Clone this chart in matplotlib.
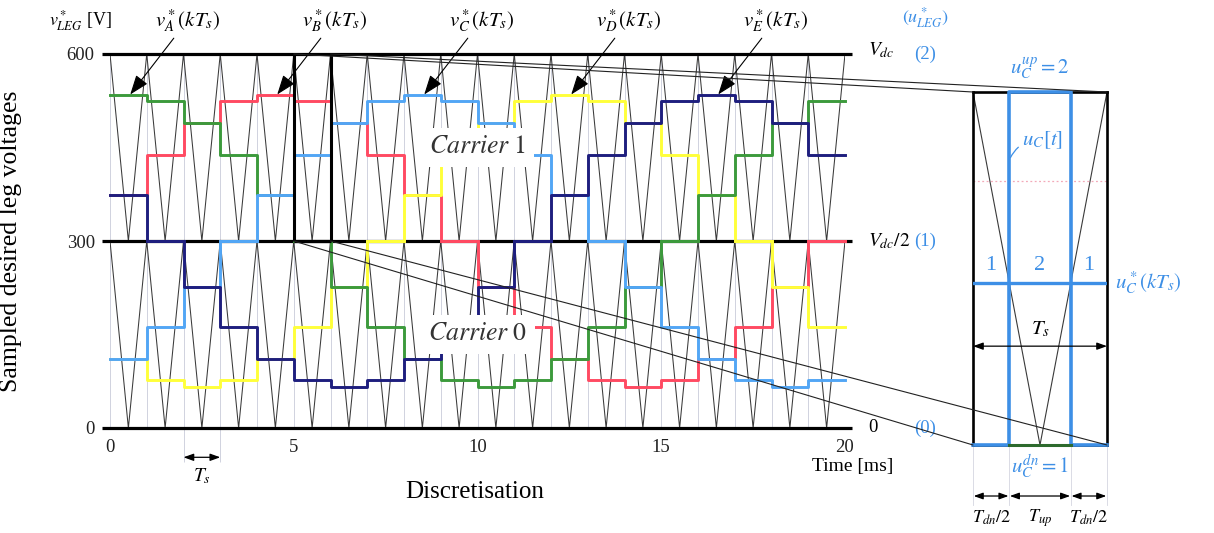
import numpy as np
import matplotlib
matplotlib.use("Agg")
import matplotlib.pyplot as plt
from matplotlib.patches import ConnectionPatch
from matplotlib.lines import Line2D
from matplotlib.transforms import blended_transform_factory

plt.rcParams['font.family'] = ['Liberation Serif', 'DejaVu Serif']
plt.rcParams['mathtext.fontset'] = 'stix'

# ---------------------------------------------------------------- data
Vdc = 600.0          # DC bus voltage [V]
Ts = 1.0             # sampling / carrier period [ms]
n_samples = 20       # samples over one 20 ms fundamental period

# sampled desired leg voltages v*_x(kTs) [V], k = 0 .. 19
v_A = [535, 524, 490, 438, 373, 300, 227, 162, 110, 77,
       65, 77, 110, 162, 227, 300, 373, 438, 490, 524]
v_B = [373, 438, 490, 524, 535, 524, 490, 438, 373, 300,
       227, 162, 110, 77, 65, 77, 110, 162, 227, 300]
v_C = [110, 162, 227, 300, 373, 438, 490, 524, 535, 524,
       490, 438, 373, 300, 227, 162, 110, 77, 65, 77]
v_D = [110, 77, 65, 77, 110, 162, 227, 300, 373, 438,
       490, 524, 535, 524, 490, 438, 373, 300, 227, 162]
v_E = [373, 300, 227, 162, 110, 77, 65, 77, 110, 162,
       227, 300, 373, 438, 490, 524, 535, 524, 490, 438]

leg_names = ["A", "B", "C", "D", "E"]
leg_values = {"A": v_A, "B": v_B, "C": v_C, "D": v_D, "E": v_E}
leg_colors = {"A": "#3c9a3c", "B": "#ff4a62", "C": "#52a6f5",
              "D": "#ffff3a", "E": "#1e1e7e"}
leg_order = ["B", "D", "A", "C", "E"]          # drawing order, bottom to top

x_ticks = [0, 5, 10, 15, 20]
y_ticks = [0, 300, 600]
y_tick_labels = ["0", "300", "600"]
k_zoom = 5                                      # sampling period shown enlarged

BLUE = "#3d8fe6"
W, H = 1214, 533

# ---------------------------------------------------------------- figure
fig = plt.figure(figsize=(W / 100, H / 100), dpi=100)
ax = fig.add_axes([110 / W, 1 - 428 / H, 735 / W, 374 / H])
ax.set_xlim(0, n_samples * Ts)
ax.set_ylim(0, Vdc)
for s in ax.spines.values():
    s.set_visible(False)
ax.set_xticks(x_ticks)
ax.set_xticklabels([str(v) for v in x_ticks])
ax.set_yticks(y_ticks)
ax.set_yticklabels(y_tick_labels)
ax.tick_params(length=0, labelsize=13.5, colors="#222222")
ax.tick_params(axis="x", pad=8)
ax.tick_params(axis="y", pad=11)

t_edges = np.arange(n_samples + 1) * Ts

# sampling instants
ax.vlines(t_edges, 0, Vdc, color="#c9cbd9", lw=0.6, zorder=1)

# phase-disposed triangular carriers (peaks at the sampling instants)
tc = np.arange(0, n_samples * Ts + Ts / 4, Ts / 2)
shape = np.where(np.arange(len(tc)) % 2 == 0, 1.0, 0.0)
carrier1 = Vdc / 2 + Vdc / 2 * shape
carrier0 = Vdc / 2 * shape
ax.plot(tc, carrier1, color="#3a3a3a", lw=0.75, zorder=2)
ax.plot(tc, carrier0, color="#3a3a3a", lw=0.75, zorder=2)

# voltage levels 0, Vdc/2, Vdc
ax.hlines([0, Vdc / 2, Vdc], -0.22, n_samples * Ts + 0.18, color="k",
          lw=2.3, zorder=2.5, clip_on=False)

# sampled references, drawn separately in each carrier band
for i, name in enumerate(leg_order):
    v = np.array(leg_values[name] + [leg_values[name][-1]], dtype=float)
    upper = np.where(v >= Vdc / 2, v, np.nan)
    lower = np.where(v <= Vdc / 2, v, np.nan)
    for band in (upper, lower):
        ax.step(t_edges, band, where="post", color=leg_colors[name],
                lw=2.1, zorder=3 + i, clip_on=False)

# enlarged window around sampling period k_zoom
ax.vlines([k_zoom * Ts, (k_zoom + 1) * Ts], Vdc / 2, Vdc, color="k", lw=2.2, zorder=9)
ax.hlines([Vdc / 2], k_zoom * Ts, (k_zoom + 1) * Ts, color="k", lw=2.3, zorder=9)

# labels with arrows pointing at the peak of each leg reference
for name in leg_names:
    vals = leg_values[name]
    k = int(np.argmax(vals))
    ax.annotate(r"$v^*_{%s}(kT_s)$" % name, xy=(k * Ts + 0.55, vals[k]),
                xytext=(41, 53), textcoords="offset points", ha="center",
                va="center", fontsize=15, annotation_clip=False,
                arrowprops=dict(arrowstyle="-|>,head_length=0.6,head_width=0.22",
                                mutation_scale=20, color="k", lw=0.8,
                                shrinkA=1, shrinkB=0), zorder=12)

ax.text(-0.82, 654, r"$v^*_{LEG}$ [V]", fontsize=13, ha="center", va="center")

# carrier names
for level, lab in [(0.75 * Vdc, r"$\mathit{Carrier}\ 1$"), (0.25 * Vdc, r"$\mathit{Carrier}\ 0$")]:
    ax.text(10, level, lab, fontsize=18.5, ha="center", va="center", zorder=11,
            color="#333333",
            bbox=dict(facecolor="white", edgecolor="none", pad=6))

# level names at the right
ax.text(20.63, 606, r"$V_{dc}$", fontsize=14, ha="left", va="center", clip_on=False)
ax.text(22.18, 600, "(2)", fontsize=13.5, color=BLUE, ha="center", va="center")
ax.text(20.63, 300, r"$V_{dc}/2$", fontsize=14, ha="left", va="center")
ax.text(22.18, 300, "(1)", fontsize=13.5, color=BLUE, ha="center", va="center")
ax.text(20.75, 0, "0", fontsize=13.5, ha="center", va="center")
ax.text(22.18, 0, "(0)", fontsize=13.5, color=BLUE, ha="center", va="center")
ax.text(22.2, 658, r"$(u^*_{LEG})$", fontsize=13, color=BLUE, ha="center", va="center")

# axis texts
ax.set_ylabel("Sampled desired leg voltages", fontsize=18.5)
ax.yaxis.set_label_coords(-0.12, 0.5)
ax.set_xlabel("Discretisation", fontsize=18)
ax.xaxis.set_label_coords(0.4966, -0.142)
ax.text(1.01, -0.104, "Time [ms]", transform=ax.transAxes, fontsize=14,
        ha="center", va="center")

# Ts marker under the time axis
ax.vlines([2 * Ts, 3 * Ts], -55, 0, color="#c9cbd9", lw=0.6, clip_on=False)
ax.annotate("", xy=(2 * Ts, -47), xytext=(3 * Ts, -47), annotation_clip=False,
            arrowprops=dict(arrowstyle="<|-|>,head_length=0.5,head_width=0.18",
                            mutation_scale=12, color="k", lw=0.9,
                            shrinkA=0, shrinkB=0))
ax.text(2.5 * Ts, -77, r"$T_s$", fontsize=14, ha="center", va="center")

# ---------------------------------------------------------------- enlarged period
axz = fig.add_axes([973 / W, 1 - 445 / H, 134 / W, 353 / H])
axz.set_xlim(k_zoom * Ts, (k_zoom + 1) * Ts)
axz.set_ylim(Vdc / 2, Vdc)
axz.set_xticks([])
axz.set_yticks([])
for s in axz.spines.values():
    s.set_linewidth(1.9)
    s.set_color("k")

ref = v_C[k_zoom]
axz.plot(tc, carrier1, color="#3a3a3a", lw=0.8, zorder=2)
axz.axhline(v_B[k_zoom], color="#f3a9b8", ls=(0, (1.5, 2)), lw=0.9, zorder=2)

frac = (Vdc - ref) / (Vdc / 2)
t_on = k_zoom * Ts + 0.5 * Ts * frac
t_off = (k_zoom + 1) * Ts - 0.5 * Ts * frac
t0z, t1z = k_zoom * Ts, (k_zoom + 1) * Ts
axz.plot([t0z, t_on, t_on, t_off, t_off, t1z],
         [Vdc / 2, Vdc / 2, Vdc, Vdc, Vdc / 2, Vdc / 2],
         color=BLUE, lw=2.6, clip_on=False, zorder=5)
axz.plot([t_on, t_off], [Vdc / 2, Vdc / 2], color="#2d6a2d", lw=2.2,
         clip_on=False, zorder=6)
axz.axhline(ref, color=BLUE, lw=2.4, zorder=4)

blend = blended_transform_factory(axz.transData, axz.transAxes)
blend_y = blended_transform_factory(axz.transAxes, axz.transData)

for xm, lab in [((t0z + t_on) / 2, "1"), ((t_on + t_off) / 2, "2"), ((t_off + t1z) / 2, "1")]:
    axz.annotate(lab, xy=(xm, ref), xytext=(0, 12), textcoords="offset points",
                 ha="center", va="center", fontsize=16, color=BLUE)

axz.text(1.06, ref, r"$u^*_C(kT_s)$", transform=blend_y, fontsize=15,
         color=BLUE, ha="left", va="center")
axz.text(0.5, 1.068, r"$u^{up}_C=2$", transform=axz.transAxes, fontsize=15,
         color=BLUE, ha="center", va="center")
axz.text(0.5, -0.062, r"$u^{dn}_C=1$", transform=axz.transAxes, fontsize=15,
         color=BLUE, ha="center", va="center")
axz.annotate(r"$u_C[t]$", xy=(t_on, 542), xytext=(0.52, 0.864),
             textcoords="axes fraction", fontsize=15, color=BLUE,
             ha="center", va="center",
             arrowprops=dict(arrowstyle="-", color=BLUE, lw=0.9,
                             connectionstyle="arc3,rad=0.35",
                             shrinkA=1, shrinkB=2))

# period arrow inside the window
axz.annotate("", xy=(t0z, 0.28), xytext=(t1z, 0.28), xycoords=blend,
             textcoords=blend,
             arrowprops=dict(arrowstyle="<|-|>,head_length=0.5,head_width=0.18",
                             mutation_scale=12, color="k", lw=0.9,
                             shrinkA=0, shrinkB=0), zorder=7)
axz.text(0.5, 0.326, r"$T_s$", transform=axz.transAxes, fontsize=15,
         ha="center", va="center", zorder=8)

# sub-interval durations below the window
for xa in [t0z, t_on, t_off, t1z]:
    axz.add_line(Line2D([xa, xa], [0, -0.17], transform=blend, color="#d4d6e0",
                        lw=0.6, clip_on=False))
for (xa, xb), lab in [((t0z, t_on), r"$T_{dn}/2$"), ((t_on, t_off), r"$T_{up}$"),
                      ((t_off, t1z), r"$T_{dn}/2$")]:
    axz.annotate("", xy=(xa, -0.1445), xytext=(xb, -0.1445), xycoords=blend,
                 textcoords=blend, annotation_clip=False,
                 arrowprops=dict(arrowstyle="<|-|>,head_length=0.5,head_width=0.18",
                                 mutation_scale=11, color="k", lw=0.9,
                                 shrinkA=0.5, shrinkB=0.5))
    axz.text((xa + xb) / 2, -0.207, lab, transform=blend, fontsize=13,
             ha="center", va="center")

# lines linking the enlarged window to the main plot
for xa, ya in [(t0z, Vdc), (t1z, Vdc), (t0z, Vdc / 2), (t1z, Vdc / 2)]:
    con = ConnectionPatch(xyA=(xa, ya), coordsA=ax.transData,
                          xyB=(xa, ya), coordsB=axz.transData,
                          color="#222222", lw=0.8, zorder=10)
    fig.add_artist(con)

fig.savefig("out.png", dpi=100)
